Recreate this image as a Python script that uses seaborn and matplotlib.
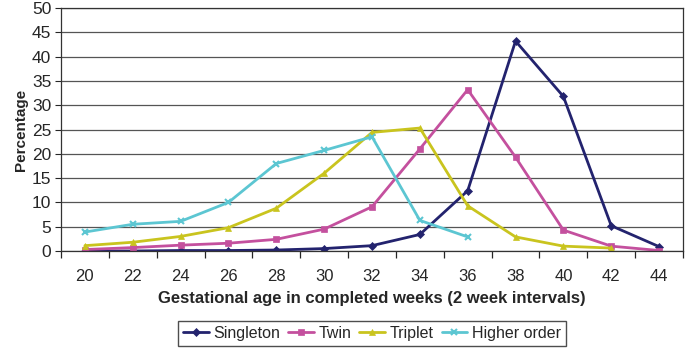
import numpy as np
import pandas as pd
import matplotlib
matplotlib.use("Agg")
import matplotlib.pyplot as plt
import seaborn as sns

# === DATI ===
weeks = ["20", "22", "24", "26", "28", "30", "32", "34", "36", "38", "40", "42", "44"]
singleton = [0.0, 0.0, 0.1, 0.1, 0.2, 0.5, 1.1, 3.4, 12.4, 43.2, 31.8, 5.2, 0.9]
twin = [0.3, 0.7, 1.2, 1.6, 2.4, 4.5, 9.1, 21.0, 33.2, 19.3, 4.3, 1.0, 0.1]
triplet = [1.1, 1.8, 3.0, 4.8, 8.8, 16.0, 24.4, 25.3, 9.3, 2.9, 1.0, 0.6]
higher = [3.9, 5.5, 6.1, 10.0, 18.0, 20.7, 23.5, 6.3, 2.9]

series = [
    ("Singleton", singleton, "#23236e", "D", 4),
    ("Twin", twin, "#c4509e", "s", 5),
    ("Triplet", triplet, "#c9c41e", "^", 5),
    ("Higher order", higher, "#5cc6d2", "x", 5),
]

sns.set_style("white")
plt.rcParams["font.family"] = ["Liberation Sans", "DejaVu Sans"]

fig = plt.figure(figsize=(6.85, 3.48), dpi=100)
ax = fig.add_axes([61 / 685, 1 - 251 / 348, 622 / 685, 243 / 348])

for name, vals, col, mk, ms in series:
    df = pd.DataFrame({"x": np.arange(len(vals)), "y": vals})
    sns.lineplot(data=df, x="x", y="y", ax=ax, color=col, marker=mk,
                 markersize=ms, linewidth=2, label=name,
                 markeredgecolor=col, markeredgewidth=1.5 if mk == "x" else 0.5)

ax.set_xlim(-0.5, len(weeks) - 0.5)
ax.set_ylim(0, 50)
ax.set_yticks(range(0, 51, 5))
ax.yaxis.grid(True, color="#555555", linewidth=0.9)
ax.set_axisbelow(True)

ax.set_xticks(np.arange(len(weeks)))
ax.set_xticklabels(weeks)
ax.set_xticks(np.arange(-0.5, len(weeks)), minor=True)
ax.tick_params(axis="x", which="major", length=0, labelsize=12, pad=13)
ax.tick_params(axis="x", which="minor", length=5, width=0.9, direction="out", bottom=True)
ax.tick_params(axis="y", labelsize=12.5, length=4, direction="out", left=True, pad=3)

for s in ax.spines.values():
    s.set_color("#333333")
    s.set_linewidth(0.9)

ax.set_xlabel("Gestational age in completed weeks (2 week intervals)",
              fontsize=12, fontweight="bold", labelpad=5)
ax.set_ylabel("Percentage", fontsize=11, fontweight="bold", labelpad=3)

ax.legend(loc="upper center", bbox_to_anchor=(0.5, -0.255), ncol=4,
          frameon=True, fancybox=False, edgecolor="#222222", fontsize=11.5,
          handlelength=1.6, handletextpad=0.3, columnspacing=0.5,
          borderpad=0.3)

plt.savefig("out.png", dpi=100)
